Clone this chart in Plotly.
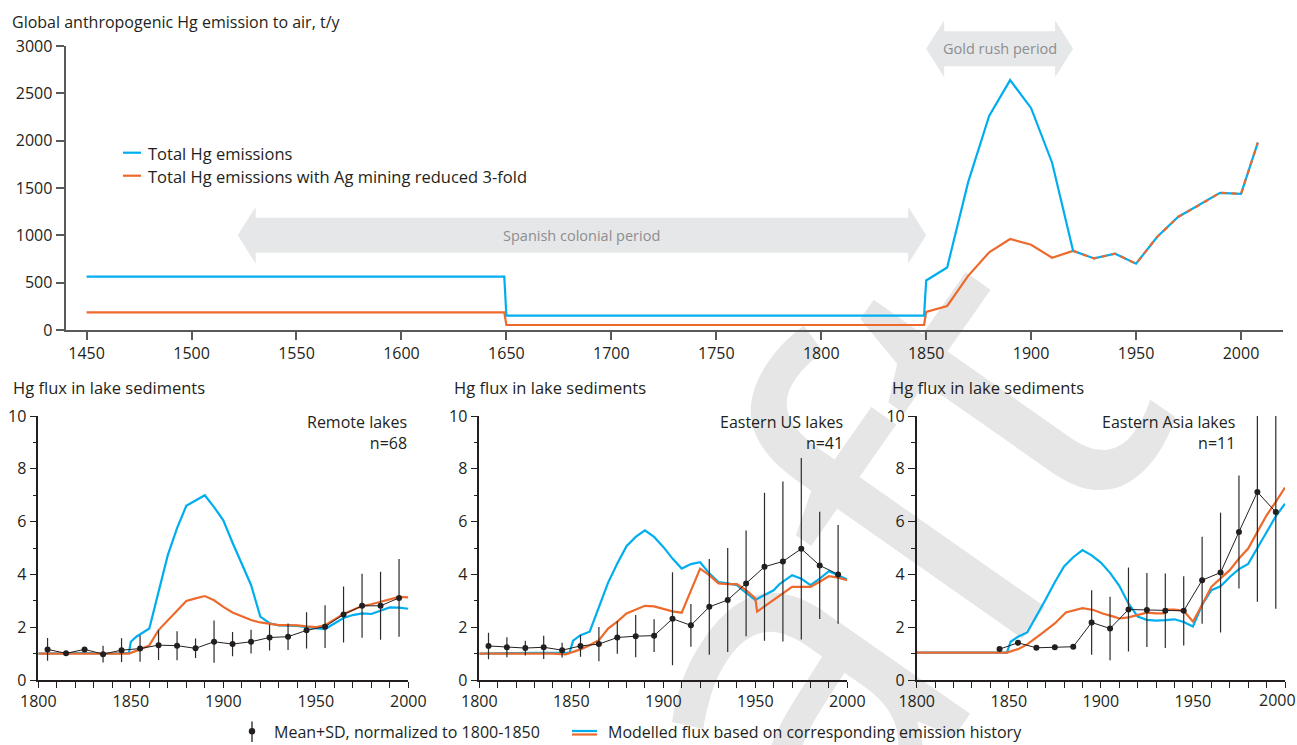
import plotly.graph_objects as go

W, H = 1297, 745
FONT = "Open Sans"
INK = "#231f20"
BLUE = "#00aeef"
ORANGE = "#ee6a2c"
AXIS_GREY = "#58595b"
ARROW_GREY = "#e6e7e8"
ARROW_TEXT = "#8d8e90"

# ---------------- global anthropogenic Hg emission to air (t/y) ----------------
em_years = [1450, 1649, 1650, 1849, 1850, 1860, 1870, 1880, 1890, 1900, 1910, 1920,
            1930, 1940, 1950, 1960, 1970, 1980, 1990, 2000, 2008]
em_total = [563, 563, 151, 151, 523, 661, 1562, 2262, 2640, 2343, 1767, 836,
            756, 806, 700, 982, 1194, 1318, 1449, 1438, 1979]
em_ag_reduced = [187, 187, 53, 53, 191, 254, 572, 820, 961, 901, 763, 836,
                 756, 806, 700, 982, 1194, 1318, 1449, 1438, 1979]
converge_year = 1920          # both scenarios coincide from here on

spanish_period = (1522, 1850)
gold_rush_period = (1850, 1920)

# ---------------- lake sediment Hg flux (normalized to 1800-1850) ----------------
panel_names = ["Remote lakes", "Eastern US lakes", "Eastern Asia lakes"]
panel_n = ["n=68", "n=41", "n=11"]
flux_ticks = [1800, 1850, 1900, 1950, 2000]

obs_years_remote = [1805, 1815, 1825, 1835, 1845, 1855, 1865, 1875, 1885, 1895,
                    1905, 1915, 1925, 1935, 1945, 1955, 1965, 1975, 1985, 1995]
obs_mean_remote = [1.16, 1.01, 1.16, 0.98, 1.13, 1.19, 1.32, 1.30, 1.20, 1.45,
                   1.36, 1.45, 1.61, 1.64, 1.88, 2.02, 2.48, 2.81, 2.81, 3.11]
obs_sd_remote = [0.43, 0.0, 0.0, 0.32, 0.45, 0.50, 0.56, 0.55, 0.37, 0.80,
                 0.46, 0.45, 0.49, 0.50, 0.69, 0.81, 1.06, 1.21, 1.29, 1.47]

obs_years_eus = [1805, 1815, 1825, 1835, 1845, 1855, 1865, 1875, 1885, 1895,
                 1905, 1915, 1925, 1935, 1945, 1955, 1965, 1975, 1985, 1995]
obs_mean_eus = [1.29, 1.24, 1.21, 1.24, 1.13, 1.29, 1.36, 1.61, 1.66, 1.68,
                2.32, 2.07, 2.77, 3.03, 3.66, 4.29, 4.49, 4.97, 4.34, 4.00]
obs_sd_eus = [0.50, 0.38, 0.28, 0.44, 0.28, 0.41, 0.65, 0.62, 0.80, 0.62,
              1.76, 0.81, 1.81, 1.97, 2.00, 2.80, 3.03, 3.44, 2.03, 1.87]

obs_years_easia = [1845, 1855, 1865, 1875, 1885, 1895, 1905, 1915, 1925, 1935,
                   1945, 1955, 1965, 1975, 1985, 1995]
obs_mean_easia = [1.17, 1.41, 1.22, 1.24, 1.26, 2.18, 1.95, 2.67, 2.65, 2.62,
                  2.62, 3.78, 4.07, 5.61, 7.12, 6.36]
obs_sd_easia = [0.0, 0.0, 0.0, 0.0, 0.0, 1.22, 1.20, 1.59, 1.40, 1.41,
                1.31, 1.65, 2.27, 2.14, 4.16, 3.66]

mod_years_remote_total = [1800, 1810, 1820, 1825, 1830, 1840, 1849, 1850, 1853, 1860,
                          1865, 1870, 1875, 1880, 1885, 1890, 1895, 1900, 1905, 1910,
                          1915, 1920, 1925, 1930, 1935, 1940, 1945, 1950, 1955, 1960,
                          1965, 1970, 1975, 1980, 1985, 1990, 1995, 2000]
mod_remote_total = [1.00, 1.00, 1.02, 1.03, 1.01, 1.00, 1.03, 1.45, 1.64, 1.95,
                    3.30, 4.73, 5.75, 6.60, 6.80, 7.00, 6.55, 6.05, 5.20, 4.40,
                    3.60, 2.40, 2.15, 2.07, 2.07, 2.05, 2.00, 1.96, 1.93, 2.14,
                    2.35, 2.46, 2.52, 2.50, 2.62, 2.75, 2.74, 2.70]
mod_years_remote_red = [1800, 1849, 1855, 1860, 1865, 1870, 1875, 1880, 1885, 1890,
                        1895, 1900, 1905, 1910, 1915, 1920, 1925, 1930, 1935, 1940,
                        1945, 1950, 1955, 1960, 1965, 1970, 1975, 1980, 1985, 1990,
                        1995, 2000]
mod_remote_red = [1.00, 1.00, 1.16, 1.31, 1.89, 2.25, 2.65, 2.99, 3.09, 3.18,
                  3.02, 2.77, 2.56, 2.40, 2.27, 2.18, 2.12, 2.08, 2.08, 2.07,
                  2.03, 2.00, 2.08, 2.30, 2.50, 2.65, 2.80, 2.87, 2.96, 3.06,
                  3.15, 3.13]

mod_years_eus_total = [1800, 1810, 1820, 1830, 1840, 1849, 1851, 1855, 1860, 1865,
                       1870, 1875, 1880, 1885, 1890, 1895, 1900, 1905, 1910, 1915,
                       1920, 1925, 1930, 1935, 1940, 1945, 1950, 1955, 1960, 1963,
                       1970, 1975, 1980, 1985, 1990, 1995, 2000]
mod_eus_total = [1.00, 1.02, 1.02, 1.03, 1.03, 1.03, 1.49, 1.70, 1.83, 2.77,
                 3.69, 4.41, 5.07, 5.42, 5.67, 5.42, 5.04, 4.60, 4.22, 4.39,
                 4.46, 4.04, 3.71, 3.66, 3.59, 3.30, 3.03, 3.22, 3.40, 3.62,
                 3.97, 3.84, 3.59, 3.84, 4.12, 3.97, 3.81]
mod_years_eus_red = [1800, 1840, 1847, 1855, 1860, 1865, 1870, 1875, 1880, 1885,
                     1890, 1895, 1900, 1905, 1910, 1920, 1925, 1930, 1935, 1940,
                     1945, 1950, 1951, 1956, 1960, 1965, 1970, 1975, 1980, 1985,
                     1990, 1995, 2000]
mod_eus_red = [1.00, 1.00, 0.97, 1.16, 1.32, 1.51, 1.95, 2.21, 2.52, 2.67,
               2.81, 2.79, 2.70, 2.60, 2.55, 4.22, 3.97, 3.66, 3.63, 3.63,
               3.40, 3.09, 2.59, 2.84, 3.05, 3.28, 3.53, 3.53, 3.53, 3.72,
               3.93, 3.88, 3.78]

mod_years_easia_total = [1800, 1849, 1851, 1855, 1860, 1865, 1870, 1875, 1880, 1885,
                         1890, 1895, 1900, 1905, 1910, 1915, 1920, 1925, 1930, 1935,
                         1940, 1945, 1950, 1955, 1960, 1965, 1970, 1975, 1980, 1985,
                         1990, 1995, 2000]
mod_easia_total = [1.04, 1.04, 1.45, 1.64, 1.80, 2.40, 3.05, 3.70, 4.30, 4.65,
                   4.92, 4.72, 4.45, 4.06, 3.57, 2.90, 2.40, 2.28, 2.25, 2.27,
                   2.30, 2.20, 2.03, 2.85, 3.40, 3.55, 3.90, 4.20, 4.40, 5.00,
                   5.60, 6.20, 6.68]
mod_years_easia_red = [1800, 1849, 1855, 1860, 1868, 1875, 1881, 1890, 1896, 1901,
                       1907, 1910, 1915, 1920, 1925, 1930, 1934, 1936, 1940, 1945,
                       1950, 1955, 1960, 1965, 1970, 1975, 1980, 1985, 1990, 1995,
                       2000]
mod_easia_red = [1.04, 1.04, 1.17, 1.35, 1.77, 2.14, 2.56, 2.72, 2.65, 2.52,
                 2.40, 2.33, 2.37, 2.46, 2.55, 2.52, 2.52, 2.67, 2.67, 2.62,
                 2.21, 2.85, 3.53, 3.85, 4.16, 4.60, 4.98, 5.61, 6.24, 6.75,
                 7.29]

panels = [
    (obs_years_remote, obs_mean_remote, obs_sd_remote,
     mod_years_remote_total, mod_remote_total, mod_years_remote_red, mod_remote_red),
    (obs_years_eus, obs_mean_eus, obs_sd_eus,
     mod_years_eus_total, mod_eus_total, mod_years_eus_red, mod_eus_red),
    (obs_years_easia, obs_mean_easia, obs_sd_easia,
     mod_years_easia_total, mod_easia_total, mod_years_easia_red, mod_easia_red),
]

# ---------------- layout geometry (pixels) ----------------
TOP_X = (65.6, 1283.0)
TOP_Y = (46.0, 330.0)
TOP_XR = [1440, 2020]
TOP_YR = [0, 3000]
PANEL_X = [(38.3, 408.3), (479.3, 847.3), (916.7, 1285.0)]
PANEL_Y = (416.0, 680.0)
PANEL_LABEL_RIGHT = [409.3, 845.0, 1236.5]


def fx(x):
    return x / W


def fy(y):
    return 1 - y / H


def top_px_x(year):
    return TOP_X[0] + (year - TOP_XR[0]) / (TOP_XR[1] - TOP_XR[0]) * (TOP_X[1] - TOP_X[0])


def top_px_y(val):
    return TOP_Y[1] - (val - TOP_YR[0]) / (TOP_YR[1] - TOP_YR[0]) * (TOP_Y[1] - TOP_Y[0])


fig = go.Figure()

# ---- top chart traces ----
k = em_years.index(converge_year)
fig.add_trace(go.Scatter(x=em_years[:k + 1], y=em_ag_reduced[:k + 1], mode="lines",
                         line=dict(color=ORANGE, width=2.2), xaxis="x", yaxis="y",
                         showlegend=False, hoverinfo="skip"))
fig.add_trace(go.Scatter(x=em_years, y=em_total, mode="lines",
                         line=dict(color=BLUE, width=2.2), xaxis="x", yaxis="y",
                         showlegend=False, hoverinfo="skip"))
fig.add_trace(go.Scatter(x=em_years[k:], y=em_ag_reduced[k:], mode="lines",
                         line=dict(color=ORANGE, width=2.2, dash="5px,5px"),
                         xaxis="x", yaxis="y", showlegend=False, hoverinfo="skip"))

# ---- lake panels ----
for i, (oy, om, osd, ty, tv, ry, rv) in enumerate(panels):
    xa = "x%d" % (i + 2)
    ya = "y%d" % (i + 2)
    fig.add_trace(go.Scatter(x=ty, y=tv, mode="lines", line=dict(color=BLUE, width=2.2),
                             xaxis=xa, yaxis=ya, showlegend=False, hoverinfo="skip"))
    fig.add_trace(go.Scatter(x=ry, y=rv, mode="lines", line=dict(color=ORANGE, width=2.2),
                             xaxis=xa, yaxis=ya, showlegend=False, hoverinfo="skip"))
    fig.add_trace(go.Scatter(x=oy, y=om, mode="lines+markers",
                             line=dict(color=INK, width=1),
                             marker=dict(color=INK, size=6),
                             error_y=dict(type="data", array=osd, symmetric=True,
                                          width=0, thickness=1.2, color="#2b2b2b"),
                             xaxis=xa, yaxis=ya, showlegend=False, hoverinfo="skip"))

tickfont = dict(family=FONT, size=16, color=INK)

layout = dict(
    width=W, height=H,
    margin=dict(l=0, r=0, t=0, b=0, pad=0, autoexpand=False),
    paper_bgcolor="white",
    plot_bgcolor="rgba(0,0,0,0)",
    font=dict(family=FONT, color=INK),
    showlegend=False,
    xaxis=dict(domain=[fx(TOP_X[0]), fx(TOP_X[1])], range=TOP_XR, anchor="y",
               tick0=1450, dtick=50, ticks="outside", ticklen=8, tickwidth=1.6,
               tickcolor=AXIS_GREY, showline=True, linecolor=AXIS_GREY, linewidth=2,
               showgrid=False, zeroline=False, tickfont=tickfont, automargin=False,
               ticklabeloverflow="allow"),
    yaxis=dict(domain=[fy(TOP_Y[1]), fy(TOP_Y[0])], range=TOP_YR, anchor="x",
               dtick=500, ticks="outside", ticklen=8, tickwidth=1.6,
               tickcolor=AXIS_GREY, showline=True, linecolor=AXIS_GREY, linewidth=2,
               showgrid=False, zeroline=False, tickfont=tickfont, automargin=False,
               ticklabeloverflow="allow"),
)
for i, (x0, x1) in enumerate(PANEL_X):
    # the right-most panel ends at the page edge: its last year label is
    # placed separately so that it stays inside the page
    labels = [str(t) for t in flux_ticks]
    if i == 2:
        labels[-1] = ""
    layout["xaxis%d" % (i + 2)] = dict(
        domain=[fx(x0), fx(x1)], range=[1800, 2000], anchor="y%d" % (i + 2),
        tickmode="array", tickvals=flux_ticks, ticktext=labels,
        ticks="outside", ticklen=6, tickwidth=1.4, tickcolor=INK,
        minor=dict(dtick=10, ticks="outside", ticklen=6, tickwidth=1.2, tickcolor=INK),
        showline=True, linecolor=INK, linewidth=1.6, showgrid=False, zeroline=False,
        tickfont=tickfont, automargin=False, ticklabeloverflow="allow")
    layout["yaxis%d" % (i + 2)] = dict(
        domain=[fy(PANEL_Y[1]), fy(PANEL_Y[0])], range=[0, 10], anchor="x%d" % (i + 2),
        dtick=2, ticks="outside", ticklen=7, tickwidth=1.4, tickcolor=INK,
        minor=dict(dtick=1, ticks="outside", ticklen=4, tickwidth=1.2, tickcolor=INK),
        showline=True, linecolor=INK, linewidth=1.6, showgrid=False, zeroline=False,
        tickfont=tickfont, automargin=False, ticklabeloverflow="allow")

fig.update_layout(**layout)

annotations = []
shapes = []


def text(x, y, s, anchor="left", size=16.5, color=INK):
    annotations.append(dict(x=fx(x), y=fy(y), xref="paper", yref="paper", text=s,
                            showarrow=False, xanchor=anchor, yanchor="middle",
                            align=anchor if anchor != "center" else "center",
                            font=dict(family=FONT, size=size, color=color)))


def hline(x0, x1, y, color, width=2.2):
    shapes.append(dict(type="line", xref="paper", yref="paper", x0=fx(x0), x1=fx(x1),
                       y0=fy(y), y1=fy(y), line=dict(color=color, width=width)))


def double_arrow(year0, year1, val, head_len=18, head_half=28.5, body_half=17.5):
    xl, xr, yc = top_px_x(year0), top_px_x(year1), top_px_y(val)
    pts = [(xl, yc), (xl + head_len, yc - head_half), (xl + head_len, yc - body_half),
           (xr - head_len, yc - body_half), (xr - head_len, yc - head_half), (xr, yc),
           (xr - head_len, yc + head_half), (xr - head_len, yc + body_half),
           (xl + head_len, yc + body_half), (xl + head_len, yc + head_half)]
    path = "M " + " L ".join("%.5f,%.5f" % (fx(a), fy(b)) for a, b in pts) + " Z"
    shapes.append(dict(type="path", xref="paper", yref="paper", path=path,
                       fillcolor=ARROW_GREY, line=dict(width=0), layer="below"))
    return (xl + xr) / 2, yc


# draft watermark, kept behind everything
wm_cx, wm_cy = 730, 790
shapes.append(dict(type="rect", xref="paper", yref="paper",
                   x0=fx(wm_cx - 100), x1=fx(wm_cx + 100),
                   y0=fy(wm_cy + 100), y1=fy(wm_cy - 100),
                   line=dict(width=0), fillcolor="rgba(0,0,0,0)", layer="below",
                   label=dict(text="Draft", textangle=-55, textposition="middle center",
                              font=dict(family=FONT, size=480, color="#e6e6e6"))))

# period arrows
cx, cy = double_arrow(spanish_period[0], spanish_period[1], 1000)
text(cx, cy, "Spanish colonial period", anchor="center", size=14.5, color=ARROW_TEXT)
cx, cy = double_arrow(gold_rush_period[0], gold_rush_period[1], 2970)
text(cx, cy, "Gold rush period", anchor="center", size=14.5, color=ARROW_TEXT)

# titles
text(10, 22, "Global anthropogenic Hg emission to air, t/y", size=16)
for i, (x0, x1) in enumerate(PANEL_X):
    text(x0 - 27, 388, "Hg flux in lake sediments")
    text(PANEL_LABEL_RIGHT[i], 432, panel_names[i] + "<br>" + panel_n[i],
         anchor="right", size=16)
text(1277, 699.5, str(flux_ticks[-1]), anchor="center", size=16)

# top legend
hline(123, 141, 152.7, BLUE)
text(146, 153.5, "Total Hg emissions")
hline(123, 141, 175.7, ORANGE)
text(146, 176.5, "Total Hg emissions with Ag mining reduced 3-fold")

# bottom legend
shapes.append(dict(type="line", xref="paper", yref="paper", x0=fx(252), x1=fx(252),
                   y0=fy(721.5), y1=fy(742), line=dict(color=INK, width=1.3)))
shapes.append(dict(type="circle", xref="paper", yref="paper", x0=fx(248.8), x1=fx(255.2),
                   y0=fy(728), y1=fy(734.4), fillcolor=INK, line=dict(width=0)))
text(272, 731.5, "Mean+SD, normalized to 1800-1850", size=16)
hline(572, 597, 731, BLUE)
hline(572, 597, 734.5, ORANGE)
text(606, 731.5, "Modelled flux based on corresponding emission history", size=16)

fig.update_layout(annotations=annotations, shapes=shapes)
fig.write_html("out.html")
